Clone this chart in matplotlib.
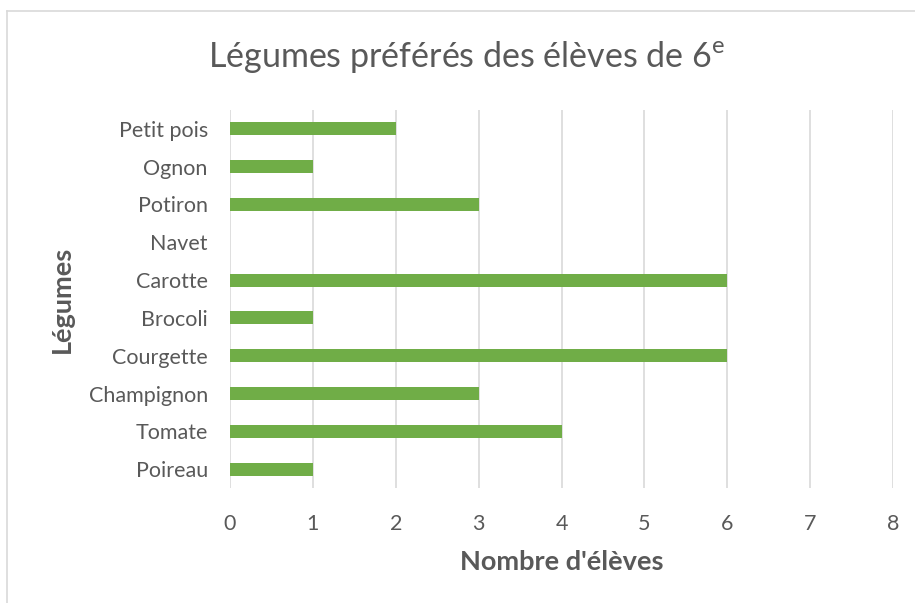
import matplotlib
matplotlib.use("Agg")
import matplotlib.pyplot as plt
from matplotlib.lines import Line2D

# données (du bas vers le haut, comme sur le graphique)
legumes = ["Poireau", "Tomate", "Champignon", "Courgette", "Brocoli",
           "Carotte", "Navet", "Potiron", "Ognon", "Petit pois"]
nb_eleves = [1, 4, 3, 6, 1, 6, 0, 3, 1, 2]
x_ticks = [0, 1, 2, 3, 4, 5, 6, 7, 8]

plt.rcParams['font.family'] = ['Lato', 'DejaVu Sans']
gris = "#595959"

fig = plt.figure(figsize=(9.15, 6.03), dpi=100)
W, H = 915, 603

# cadre du graphique (bord gauche et haut visibles)
fig.add_artist(Line2D([7 / W, 7 / W], [0, 1 - 11 / H], color="#D9D9D9", lw=1.2,
                      transform=fig.transFigure))
fig.add_artist(Line2D([7 / W, 1], [1 - 11 / H, 1 - 11 / H], color="#D9D9D9", lw=1.2,
                      transform=fig.transFigure))

ax = fig.add_axes([230 / W, 1 - 488 / H, 663 / W, 378 / H])
ax.barh(range(len(legumes)), nb_eleves, height=0.34, color="#70AD47", zorder=3)

ax.set_xlim(0, 8)
ax.set_ylim(-0.5, len(legumes) - 0.5)
ax.set_xticks(x_ticks)
ax.set_yticks(range(len(legumes)))
ax.set_yticklabels(legumes)
ax.grid(axis="x", color="#D9D9D9", lw=1.2, zorder=0)
for s in ax.spines.values():
    s.set_visible(False)
ax.tick_params(axis="both", length=0, colors=gris, labelsize=15.5)
ax.tick_params(axis="x", pad=19)
ax.tick_params(axis="y", pad=16)

ax.set_xlabel("Nombre d'élèves", fontsize=19.5, fontweight="bold", color=gris)
ax.set_ylabel("Légumes", fontsize=19.5, fontweight="bold", color=gris)
ax.xaxis.set_label_coords(0.5, (488 - 562) / 378)
ax.xaxis.label.set_va("center")
ax.yaxis.set_label_coords((62 - 230) / 663, 0.5)
ax.yaxis.label.set_va("center")

fig.text(467 / W, 1 - 57 / H, r"Légumes préférés des élèves de 6$^{\mathregular{e}}$",
         ha="center", va="center", fontsize=24.5, color=gris)

fig.savefig("out.png", dpi=100)
